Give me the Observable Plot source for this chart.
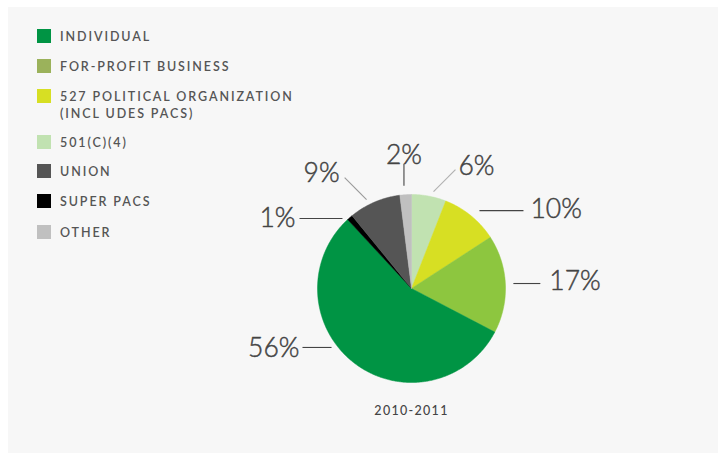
<!DOCTYPE html>
<html>
<head>
<meta charset="utf-8">
<script src="https://cdn.jsdelivr.net/npm/d3@7"></script>
<script src="https://cdn.jsdelivr.net/npm/@observablehq/plot@0.6"></script>
<style>
  html, body { margin: 0; padding: 0; background: #ffffff; }
  #panel { position: absolute; left: 8px; top: 7px; width: 710px; height: 446px; background: #f7f7f7; overflow: hidden; }
  #legend { position: absolute; left: 29px; top: 22px; font-family: Lato, "Open Sans", sans-serif; font-size: 12.5px; font-weight: 600; letter-spacing: 1.9px; color: #555; }
  .item { position: absolute; left: 0; display: flex; align-items: flex-start; white-space: nowrap; }
  .sw { width: 14px; height: 14px; margin-right: 9px; flex: none; }
  .lbl { line-height: 17px; margin-top: -1px; }
  #chart { position: absolute; left: 0; top: 0; }
</style>
</head>
<body>
<div id="panel">
  <div id="legend"></div>
  <div id="chart"></div>
</div>
<script>
// ---- data ----
const categories = ["501(C)(4)", "527 POLITICAL ORGANIZATION\n(INCL UDES PACS)", "FOR-PROFIT BUSINESS", "INDIVIDUAL", "SUPER PACS", "UNION", "OTHER"];
const shares = [6, 10, 17, 56, 1, 9, 2];           // percent, clockwise from 12 o'clock
const sliceColors = ["#c1e2b1", "#d7df23", "#8dc63f", "#009444", "#000000", "#555555", "#c0c0c0"];
const legendOrder = ["INDIVIDUAL", "FOR-PROFIT BUSINESS", "527 POLITICAL ORGANIZATION\n(INCL UDES PACS)", "501(C)(4)", "UNION", "SUPER PACS", "OTHER"];
const legendColors = ["#009444", "#9bb25b", "#d7df23", "#c1e2b1", "#555555", "#000000", "#c0c0c0"];
const periodLabel = "2010-2011";

// ---- legend (HTML) ----
const legendTops = [0, 30, 60, 106, 135, 165, 196];
const legend = document.getElementById("legend");
legendOrder.forEach((name, i) => {
  const it = document.createElement("div");
  it.className = "item";
  it.style.top = legendTops[i] + "px";
  const sw = document.createElement("div");
  sw.className = "sw";
  sw.style.background = legendColors[i];
  const lb = document.createElement("div");
  lb.className = "lbl";
  lb.innerHTML = name.split("\n").join("<br>");
  it.appendChild(sw); it.appendChild(lb);
  legend.appendChild(it);
});

// ---- pie geometry from data ----
const W = 710, H = 446, R = 94, cx = 403, cy = 281;
const pie = d3.pie().sort(null).value(d => d.v).startAngle(0).endAngle(2 * Math.PI);
const arcs = pie(categories.map((c, i) => ({c, v: shares[i], color: sliceColors[i], i})));
const pt = (a, r) => [r * Math.sin(a), r * Math.cos(a)];
const slicePts = [];
arcs.forEach(a => {
  const n = Math.max(4, Math.ceil((a.endAngle - a.startAngle) / 0.01));
  slicePts.push({k: a.data.i, x: 0, y: 0, color: a.data.color});
  for (let j = 0; j <= n; j++) {
    const t = a.startAngle + (a.endAngle - a.startAngle) * j / n;
    const [x, y] = pt(t, 1);
    slicePts.push({k: a.data.i, x, y, color: a.data.color});
  }
  slicePts.push({k: a.data.i, x: 0, y: 0, color: a.data.color});
});

// ---- leader layout (angle in degrees, radius in pie units, direction, length) ----
const leaderLayout = [
  {ang: 12.8,  r: 1.058, dir: [0.707, 0.707],  len: 0.33, stroke: "#b0b0b0", anchor: "start",  la: "bottom", dx: 3,  dy: 5},
  {ang: 41.1,  r: 1.10,  dir: [1, 0],          len: 0.468, stroke: "#444", anchor: "start",  la: "middle", dx: 7,  dy: -1},
  {ang: 87.2,  r: 1.085, dir: [1, 0],          len: 0.287, stroke: "#444", anchor: "start",  la: "middle", dx: 9,  dy: -2},
  {ang: 233.6, r: 1.057, dir: [-1, 0],         len: 0.309, stroke: "#444", anchor: "end",    la: "middle", dx: -3, dy: 1},
  {ang: 315.4, r: 1.046, dir: [-1, 0],         len: 0.457, stroke: "#444", anchor: "end",    la: "middle", dx: -4, dy: 0},
  {ang: 333.2, r: 1.06,  dir: [-0.707, 0.707], len: 0.33, stroke: "#999", anchor: "end",    la: "bottom", dx: -5, dy: 4},
  {ang: 355.8, r: 1.096, dir: [0, 1],          len: 0.234, stroke: "#444", anchor: "middle", la: "bottom", dx: 0,  dy: 0}
];
const leaders = arcs.map((a, i) => {
  const L = leaderLayout[i];
  const [x1, y1] = pt(L.ang * Math.PI / 180, L.r);
  const x2 = x1 + L.dir[0] * L.len, y2 = y1 + L.dir[1] * L.len;
  return {x1, y1, x2, y2, label: shares[i] + "%", ...L};
});

const xDom = [-cx / R, (W - cx) / R];
const yDom = [-(H - cy) / R, cy / R];

const labelFont = "Lato, 'Open Sans', sans-serif";
const marks = [
  Plot.line(slicePts, {x: "x", y: "y", z: "k", fill: "color", stroke: "color", strokeWidth: 0.5, curve: "linear"}),
  Plot.link(leaders, {x1: "x1", y1: "y1", x2: "x2", y2: "y2", stroke: "stroke", strokeWidth: 1.1})
];
leaders.forEach(l => {
  marks.push(Plot.text([l], {x: "x2", y: "y2", text: "label", textAnchor: l.anchor, lineAnchor: l.la,
    dx: l.dx, dy: l.dy, fontSize: 26.5, fontWeight: 300, fill: "#444", stroke: "#444", strokeWidth: 0.45, fontFamily: labelFont}));
});
marks.push(Plot.text([periodLabel], {x: 0, y: -1.3, text: d => d, fontSize: 12.5, fontWeight: 500,
  fill: "#444", fontFamily: labelFont}));

const chart = Plot.plot({
  width: W, height: H, margin: 0,
  style: {background: "transparent", overflow: "visible"},
  x: {domain: xDom, axis: null},
  y: {domain: yDom, axis: null},
  color: {type: "identity"},
  marks
});
chart.querySelectorAll("text").forEach(t => {
  if (t.textContent === periodLabel) t.setAttribute("letter-spacing", "1.3px");
});
document.getElementById("chart").appendChild(chart);
</script>
</body>
</html>
